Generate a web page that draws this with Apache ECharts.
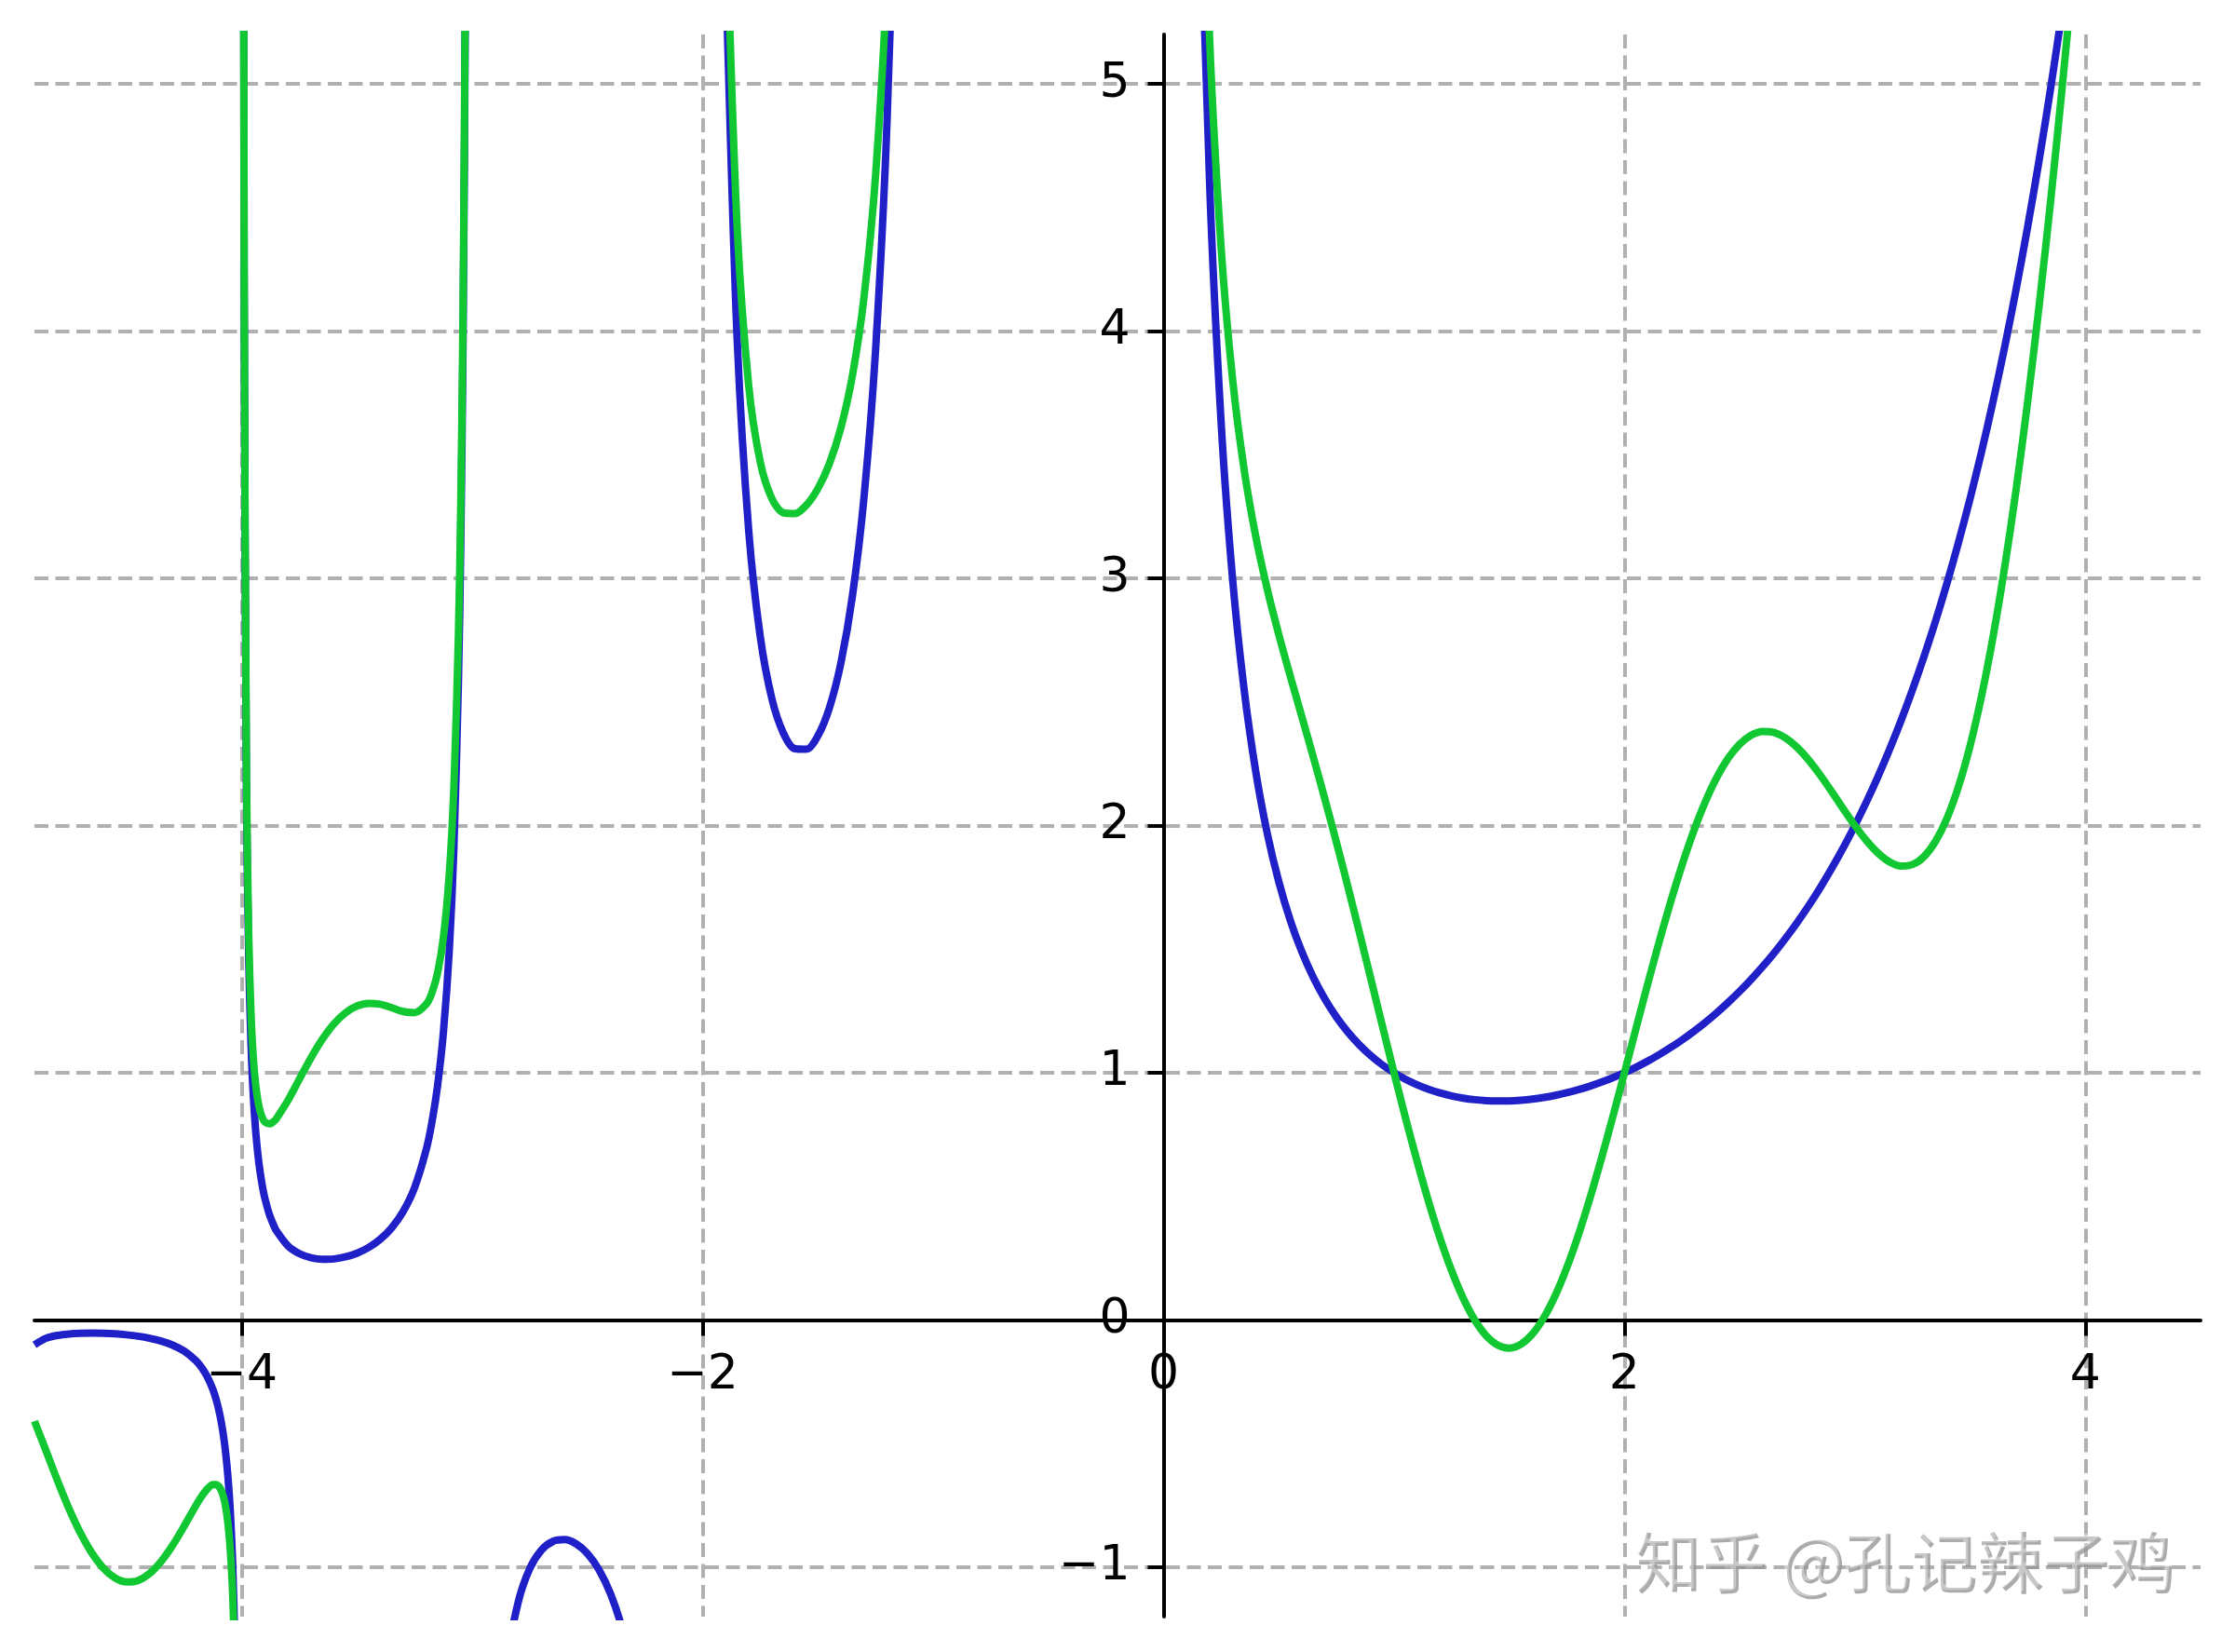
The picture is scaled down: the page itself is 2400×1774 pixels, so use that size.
<!DOCTYPE html>
<html>
<head>
<meta charset="utf-8">
<script src="https://cdn.jsdelivr.net/npm/echarts@6/dist/echarts.min.js"></script>
<style>
html,body{margin:0;padding:0;background:#fff;}
#chart{width:2400px;height:1774px;}
</style>
</head>
<body>
<div id="chart"></div>
<script>
// ---- data ----
const xTicks = [-4, -2, 0, 2, 4];
const yTicks = [-1, 0, 1, 2, 3, 4, 5];

// branch between -4.9 and -4
const xA = [-4.9,-4.85,-4.8,-4.75,-4.7,-4.65,-4.6,-4.55,-4.5,-4.45,-4.4,-4.35,-4.3,-4.25,-4.2,-4.175,-4.15,-4.125,-4.11,-4.1,-4.09,-4.08,-4.07,-4.06,-4.05,-4.04,-4.03,-4.02];
const blueA = [-0.1004,-0.0743,-0.0624,-0.0564,-0.0535,-0.0528,-0.0537,-0.0560,-0.0600,-0.0658,-0.0741,-0.0856,-0.1020,-0.1262,-0.1641,-0.1918,-0.2295,-0.2829,-0.3270,-0.3640,-0.4094,-0.4665,-0.5397,-0.6380,-0.7759,-0.9832,-1.3293,-2.0227];
const greenA = [-0.4094,-0.5283,-0.6502,-0.7635,-0.8625,-0.9438,-1.0048,-1.0437,-1.0600,-1.0536,-1.0252,-0.9766,-0.9110,-0.8333,-0.7519,-0.7143,-0.6835,-0.6656,-0.6657,-0.6730,-0.6884,-0.7152,-0.7578,-0.8253,-0.9323,-1.1085,-1.4234,-2.0855];

// branch between -4 and -3
const xB = [-3.995,-3.99,-3.98,-3.97,-3.96,-3.95,-3.94,-3.93,-3.92,-3.91,-3.9,-3.88,-3.86,-3.85,-3.8,-3.75,-3.7,-3.65,-3.6,-3.55,-3.5,-3.45,-3.4,-3.35,-3.3,-3.25,-3.2,-3.175,-3.15,-3.125,-3.1,-3.08,-3.06,-3.05,-3.04,-3.03,-3.02];
const blueB = [8.397,4.2306,2.1484,1.4551,1.1091,0.9020,0.7643,0.6664,0.5933,0.5368,0.4919,0.4253,0.3788,0.3605,0.2996,0.2679,0.2516,0.2454,0.2469,0.2550,0.2701,0.2930,0.3259,0.3723,0.4385,0.5362,0.6890,0.8009,0.9523,1.1668,1.4922,1.9035,2.5902,3.1423,3.9719,5.3573,8.131];
const greenB = [8.413,4.2620,2.2112,1.5492,1.2344,1.0584,0.9517,0.8845,0.8420,0.8158,0.8009,0.7934,0.8046,0.8145,0.8874,0.9750,1.0606,1.1364,1.1980,1.2427,1.2701,1.2807,1.2770,1.2633,1.2475,1.2433,1.2768,1.3234,1.4063,1.5495,1.8012,2.1522,2.7776,3.2987,4.0972,5.4514,8.194];

// branch between -3 and -2 (blue only visible)
const xC = [-2.9,-2.85,-2.8,-2.75,-2.7,-2.65,-2.6,-2.55,-2.5,-2.45,-2.4,-2.35,-2.3];
const blueC = [-1.9184,-1.3880,-1.1386,-1.0045,-0.9311,-0.8958,-0.8887,-0.9053,-0.9453,-1.0109,-1.1080,-1.2471,-1.4472];

// branch between -2 and -1
const xD = [-1.95,-1.9,-1.89,-1.85,-1.8,-1.75,-1.7,-1.65,-1.6,-1.55,-1.5,-1.45,-1.4,-1.35,-1.3,-1.25,-1.2,-1.15,-1.1,-1.05];
const blueD = [10.510,5.5634,5.120,3.9557,3.1881,2.7624,2.5139,2.3740,2.3106,2.3086,2.3633,2.4768,2.6593,2.9308,3.3285,3.9213,4.8508,6.4493,9.7145,19.648];
const greenD = [10.666,5.8724,5.459,4.4097,3.7759,3.4695,3.3229,3.2650,3.2617,3.2963,3.3633,3.4645,3.6104,3.8218,4.1375,4.6284,5.4386,6.9033,10.0235,19.804];

// branch for x > 0
const xE = [0.05,0.1,0.15,0.2,0.25,0.3,0.35,0.4,0.45,0.5,0.55,0.6,0.65,0.7,0.75,0.8,0.85,0.9,0.95,1.0,
  1.05,1.1,1.15,1.2,1.25,1.3,1.35,1.4,1.45,1.5,1.55,1.6,1.65,1.7,1.75,1.8,1.85,1.9,1.95,2.0,
  2.05,2.1,2.15,2.2,2.25,2.3,2.35,2.4,2.45,2.5,2.55,2.6,2.65,2.7,2.75,2.8,2.85,2.9,2.95,3.0,
  3.05,3.1,3.15,3.2,3.25,3.3,3.35,3.4,3.45,3.5,3.55,3.6,3.65,3.7,3.75,3.8,3.85,3.9,3.95,4.0,4.05];
const blueE = [19.470,9.5135,6.2203,4.5908,3.6256,2.9916,2.5461,2.2182,1.9681,1.7725,1.6161,1.4892,1.3848,1.2981,1.2254,1.1642,1.1125,1.0686,1.0315,1.0,
  0.9735,0.9514,0.9330,0.9182,0.9064,0.8975,0.8912,0.8873,0.8857,0.8862,0.8889,0.8935,0.9001,0.9086,0.9191,0.9314,0.9456,0.9618,0.9799,1.0,
  1.0222,1.0465,1.0730,1.1018,1.1330,1.1667,1.2031,1.2422,1.2842,1.3293,1.3777,1.4296,1.4852,1.5447,1.6084,1.6765,1.7494,1.8274,1.9108,2.0,
  2.0955,2.1977,2.3070,2.4240,2.5493,2.6834,2.8273,2.9813,3.1463,3.3233,3.5131,3.7170,3.9358,4.1707,4.4231,4.6942,4.9858,5.2995,5.6369,6.0,6.3913];
const greenE = [19.626,9.8225,6.6743,5.1786,4.3327,3.8006,3.4371,3.1693,2.9558,2.7725,2.6038,2.4403,2.2758,2.1071,1.9325,1.7520,1.5665,1.3776,1.1879,1.0,
  0.8171,0.6424,0.4790,0.3304,0.1993,0.0885,0.0002,-0.0638,-0.1020,-0.1138,-0.0988,-0.0576,0.0091,0.0996,0.2120,0.3436,0.4916,0.6528,0.8235,1.0,
  1.1786,1.3555,1.5270,1.6896,1.8401,1.9757,2.0941,2.1933,2.2719,2.3293,2.3654,2.3807,2.3762,2.3537,2.3155,2.2643,2.2034,2.1364,2.0672,2.0,
  1.9391,1.8887,1.8530,1.8362,1.8422,1.8744,1.9363,2.0302,2.1586,2.3233,2.5254,2.7659,3.0448,3.3617,3.7160,4.1064,4.5318,4.9905,5.4805,6.0,6.5477];

const watermark = '知乎 @孔记辣子鸡';

// ---- chart ----
const BLUE = '#2020c8';
const GREEN = '#12c832';
const GRID = { left: 37, right: 37, top: 37, bottom: 38 };
const zip = (xs, ys) => xs.map((x, i) => [x, ys[i]]);
const lineSeries = (xs, ys, color, z) => ({
  type: 'line', data: zip(xs, ys), showSymbol: false, symbol: 'none',
  clip: true, z: z, silent: true, smooth: 0.3,
  lineStyle: { color: color, width: 8, cap: 'butt', join: 'round' }
});
const minus = v => String(v).replace('-', '\u2212');
const axisCommon = (ticks, margin, pad) => ({
  type: 'value',
  axisLine: { show: true, onZero: false, lineStyle: { color: '#000', width: 4 } },
  axisTick: { show: true, length: 17, customValues: ticks, lineStyle: { color: '#000', width: 4 } },
  axisLabel: { show: true, customValues: ticks, formatter: minus, margin: margin, padding: pad,
    fontSize: 52, fontFamily: 'DejaVu Sans', color: '#000' },
  splitLine: { show: true, lineStyle: { color: '#b0b0b0', width: 4, type: [15, 7.5] } }
});

const chart = echarts.init(document.getElementById('chart'), null, { renderer: 'canvas' });
chart.setOption({
  animation: false,
  backgroundColor: '#ffffff',
  grid: Object.assign({ containLabel: false, outerBoundsMode: 'none' }, GRID),
  xAxis: Object.assign(axisCommon(xTicks, 34, 0), { min: -4.9, max: 4.5, position: 'bottom', offset: 0 }),
  yAxis: Object.assign(axisCommon(yTicks, 36, [7, 0, 0, 0]), { min: -1.2, max: 5.2, position: 'left', offset: 0 }),
  series: [
    lineSeries(xA, blueA, BLUE, 2),
    lineSeries(xB, blueB, BLUE, 2),
    lineSeries(xC, blueC, BLUE, 2),
    lineSeries(xD, blueD, BLUE, 2),
    lineSeries(xE, blueE, BLUE, 2),
    lineSeries(xA, greenA, GREEN, 3),
    lineSeries(xB, greenB, GREEN, 3),
    lineSeries(xD, greenD, GREEN, 3),
    lineSeries(xE, greenE, GREEN, 3)
  ],
  graphic: [
    { type: 'text', x: 1757, y: 1678, z: 100, silent: true,
      style: { text: watermark, fontSize: 71, fontFamily: 'Noto Sans CJK SC',
        fill: 'rgba(150,150,150,0.8)', textVerticalAlign: 'middle', textAlign: 'left' } },
    { type: 'text', x: 1754, y: 1675, z: 101, silent: true,
      style: { text: watermark, fontSize: 71, fontFamily: 'Noto Sans CJK SC',
        fill: 'rgba(255,255,255,0.35)', textVerticalAlign: 'middle', textAlign: 'left' } }
  ]
});

// move the axes so that they cross at the origin (spines at zero)
const origin = chart.convertToPixel({ gridIndex: 0 }, [0, 0]);
const chartH = chart.getHeight();
chart.setOption({
  xAxis: { offset: -((chartH - GRID.bottom) - origin[1]) },
  yAxis: { offset: -(origin[0] - GRID.left) }
});
</script>
</body>
</html>
